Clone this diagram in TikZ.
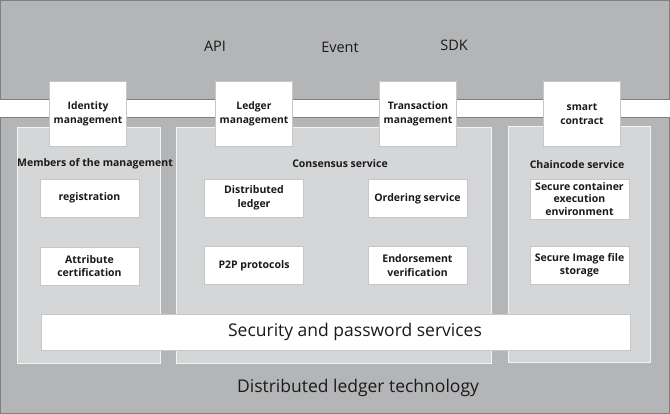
\documentclass[tikz,border=0pt]{standalone}
\usepackage{fontspec}
\setmainfont{Open Sans}
\usetikzlibrary{positioning}

\definecolor{cLayer}{HTML}{B4B5B7}  % outer grey
\definecolor{cPanel}{HTML}{D5D6D8}  % inner panels
\definecolor{cEdge}{HTML}{7E7F81}
\definecolor{cBoxEdge}{HTML}{C6C7C9}
\definecolor{cText}{HTML}{1A1A1A}

\begin{document}
\begin{tikzpicture}[
    x=1pt, y=-1pt,
    text=cText,
    layer/.style={rectangle, draw=cEdge, line width=0.9pt, fill=cLayer, inner sep=0pt},
    panel/.style={rectangle, draw=white!70!cPanel, line width=0.6pt, fill=cPanel, inner sep=0pt},
    headbox/.style={rectangle, draw=cBoxEdge, fill=white, align=center, minimum width=77pt, minimum height=65pt, inner sep=0pt, font=\fontsize{10.3}{13.5}\selectfont\bfseries},
    itembox/.style={rectangle, draw=cBoxEdge, line width=0.8pt, fill=white, align=center, minimum width=99pt, minimum height=38pt, inner sep=0pt, font=\fontsize{10.5}{13.5}\selectfont\bfseries},
    sectitle/.style={font=\fontsize{10.5}{12}\selectfont\bfseries},
    toplabel/.style={font=\fontsize{14.5}{16}\selectfont},
]
\useasboundingbox (0,0) rectangle (670,414);

% outer layers
\node[layer, minimum width=669pt, minimum height=98.5pt] (apilayer) at (335,49.75) {};
\node[layer, minimum width=669pt, minimum height=296pt] (dltlayer) at (335,265) {};

\node[toplabel] (api)   at (215,46) {API};
\node[toplabel] (event) at (340,47) {Event};
\node[toplabel] (sdk)   at (454,45) {SDK};

% service panels
\node[panel, minimum width=143pt, minimum height=236pt] (members)   at (88.5,245) {};
\node[panel, minimum width=315pt, minimum height=236pt] (consensus) at (333.5,245) {};
\node[panel, minimum width=142pt, minimum height=236pt] (chaincode) at (579,244) {};

% header boxes
\node[headbox] (identity)    at (88,114)  {Identity\\management};
\node[headbox] (ledger)      at (254,114) {Ledger\\management};
\node[headbox] (transaction) at (418,114) {Transaction\\management};
\node[headbox] (smart)       at (582,114) {smart\\contract};

\node[sectitle] (memtitle)   at (95,164)  {Members of the management};
\node[sectitle] (constitle)  at (340,164) {Consensus service};
\node[sectitle] (chaintitle) at (577,165) {Chaincode service};

\node[itembox] (registration) at (89.5,198)   {registration};
\node[itembox] (attribute)    at (89.5,266)   {Attribute\\certification};
\node[itembox] (distledger)   at (254,198)    {Distributed\\ledger};
\node[itembox] (ptwop)        at (254,265.5)  {P2P protocols};
\node[itembox] (ordering)     at (417.5,198.5){Ordering service};
\node[itembox] (endorse)      at (417.5,265.5){Endorsement\\verification};
\node[itembox, minimum height=40pt, font=\fontsize{10.5}{12.8}\selectfont\bfseries] (container) at (579.5,199) {Secure container\\execution\\environment};
\node[itembox] (imagefile)    at (579.5,265)  {Secure Image file\\storage};

\node[rectangle, draw=cBoxEdge, line width=0.8pt, fill=white, minimum width=589pt, minimum height=36pt, inner sep=0pt] (security) at (335.5,332) {};
\node[font=\fontsize{17.5}{20}\selectfont] (sectext) at (355,332) {Security and password services};

\node[font=\fontsize{17.5}{20}\selectfont] (dlt) at (358,388) {Distributed ledger technology};

\end{tikzpicture}
\end{document}
